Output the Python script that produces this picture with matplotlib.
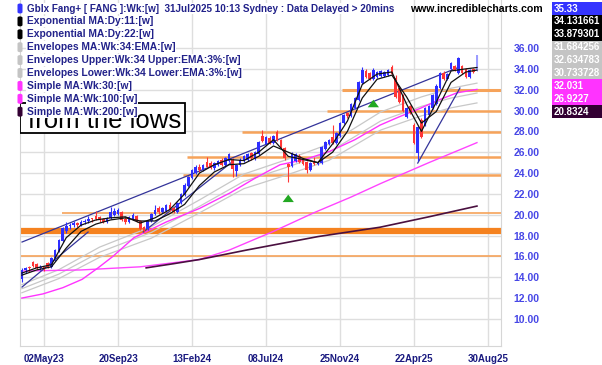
import matplotlib
matplotlib.use('Agg')
import matplotlib.pyplot as plt
from matplotlib.patches import Rectangle, FancyBboxPatch
import numpy as np

plt.rcParams['font.family'] = ['Liberation Sans', 'DejaVu Sans']

# weekly candles (index 0 = week of 20Mar23, last = 31Jul25)
opens = [13.8, 14.7, 14.9, 15.5, 15.3, 14.9, 15.0, 15.4, 15.0, 15.8,
         16.5, 17.5, 18.4, 18.9, 19.0, 19.2, 19.0, 19.3, 19.4, 19.6,
         19.9, 19.8, 19.6, 19.3, 19.7, 20.0, 20.1, 20.3, 19.6, 19.3,
         19.6, 19.9, 19.4, 18.8, 18.6, 19.4, 20.1, 20.6, 20.3, 20.4,
         20.9, 20.6, 20.3, 21.1, 21.9, 22.8, 23.5, 24.0, 24.6, 24.3,
         25.1, 25.0, 24.5, 24.8, 25.3, 24.8, 25.2, 25.3, 24.2, 24.8,
         25.2, 25.3, 25.9, 25.4, 25.8, 27.6, 26.8, 27.4, 26.9, 27.9,
         27.2, 26.4, 24.9, 24.7, 25.2, 25.6, 25.3, 25.1, 24.3, 25.2,
         24.9, 25.0, 26.3, 26.8, 27.5, 26.9, 27.6, 28.8, 29.8, 29.5,
         30.2, 31.0, 32.6, 33.8, 33.6, 33.0, 33.2, 33.3, 33.3, 33.4,
         34.2, 33.1, 32.2, 31.5, 29.4, 30.4, 28.6, 25.9, 29.1, 28.6,
         29.6, 30.2, 30.6, 32.2, 33.6, 33.0, 34.0, 34.3, 33.6, 34.3,
         34.0, 33.2, 34.0, 33.9]
highs = [14.9, 15.0, 15.1, 15.6, 15.4, 15.2, 15.1, 15.5, 15.9, 16.7,
         17.7, 18.8, 19.3, 19.2, 19.4, 19.3, 19.5, 19.6, 19.9, 19.7,
         20.4, 19.9, 19.7, 19.8, 20.7, 20.6, 20.6, 20.4, 19.8, 19.9,
         20.2, 20.0, 19.5, 18.9, 19.5, 20.2, 20.9, 20.8, 20.7, 21.0,
         21.2, 20.7, 21.2, 22.1, 23.0, 23.7, 24.4, 24.8, 24.9, 24.9,
         25.5, 25.2, 25.1, 25.3, 25.4, 25.5, 25.9, 25.4, 24.9, 25.4,
         25.7, 25.9, 26.0, 26.1, 27.1, 28.1, 27.6, 27.6, 27.7, 28.1,
         27.3, 26.5, 25.0, 26.0, 25.9, 25.8, 25.4, 25.2, 25.1, 25.5,
         25.2, 26.6, 27.1, 27.3, 28.6, 27.9, 28.9, 29.7, 29.9, 30.7,
         31.3, 32.8, 34.2, 34.0, 33.7, 34.1, 33.8, 33.9, 33.8, 34.0,
         34.4, 33.4, 32.3, 31.6, 30.3, 30.5, 28.8, 28.5, 29.3, 30.3,
         30.5, 31.6, 32.5, 33.7, 33.8, 33.6, 34.7, 34.4, 35.1, 34.4,
         34.1, 34.0, 34.1, 35.33]
lows = [13.5, 14.4, 14.5, 15.0, 14.8, 14.7, 14.6, 14.9, 14.9, 15.6,
        16.4, 17.4, 18.2, 18.6, 18.8, 18.8, 18.9, 19.1, 19.2, 19.3,
        19.5, 19.3, 19.2, 19.2, 19.6, 19.9, 20.0, 19.4, 19.1, 19.2,
        19.5, 19.3, 18.5, 18.3, 18.5, 19.3, 20.0, 20.1, 20.2, 20.3,
        20.4, 20.2, 20.2, 21.0, 21.8, 22.7, 23.4, 23.9, 24.1, 24.2,
        24.5, 24.4, 24.3, 24.7, 24.7, 24.7, 25.1, 23.6, 23.7, 24.7,
        25.1, 25.2, 25.3, 25.3, 25.7, 27.0, 26.7, 26.8, 26.8, 27.1,
        26.4, 25.3, 23.1, 24.6, 25.1, 25.0, 24.8, 24.0, 24.2, 24.8,
        24.8, 24.9, 26.2, 26.7, 26.8, 26.8, 27.5, 28.7, 29.3, 29.4,
        30.1, 30.9, 32.5, 33.1, 32.9, 32.9, 33.1, 33.2, 33.2, 33.3,
        33.4, 31.2, 30.7, 29.9, 29.3, 29.7, 26.8, 25.2, 27.4, 28.5,
        29.5, 30.1, 30.5, 32.1, 32.9, 32.9, 33.9, 33.8, 33.5, 33.5,
        33.1, 33.1, 33.6, 33.8]
closes = [14.7, 14.9, 14.8, 15.1, 14.9, 15.0, 14.8, 15.0, 15.8, 16.6,
          17.6, 18.7, 18.9, 19.0, 19.2, 19.0, 19.3, 19.4, 19.6, 19.5,
          19.6, 19.5, 19.3, 19.7, 20.3, 20.4, 20.5, 19.5, 19.3, 19.8,
          20.0, 19.4, 18.6, 18.4, 19.4, 20.1, 20.5, 20.3, 20.6, 20.9,
          20.5, 20.3, 21.1, 22.0, 22.9, 23.6, 24.3, 24.6, 24.3, 24.8,
          24.6, 24.5, 25.0, 25.2, 24.8, 25.4, 25.8, 24.4, 24.8, 25.3,
          25.6, 25.8, 25.4, 26.0, 27.0, 27.1, 27.5, 26.9, 27.6, 27.2,
          26.5, 25.4, 24.6, 25.9, 25.8, 25.1, 24.9, 24.3, 25.0, 24.9,
          25.1, 26.5, 27.0, 27.2, 26.9, 27.8, 28.8, 29.6, 29.5, 30.6,
          31.2, 32.7, 33.9, 33.2, 33.0, 33.9, 33.7, 33.8, 33.7, 33.9,
          33.5, 31.3, 30.8, 30.0, 30.2, 29.8, 26.9, 28.4, 27.5, 30.2,
          30.4, 31.5, 32.4, 33.6, 33.0, 33.5, 34.6, 33.9, 35.0, 33.6,
          33.2, 33.9, 33.7, 35.33]

date_ticks = [6, 26, 46, 66, 86, 106, 126]
date_labels = ['02May23', '20Sep23', '13Feb24', '08Jul24', '25Nov24', '22Apr25', '30Aug25']
price_ticks = list(range(10, 37, 2))

# indicators (bar index, value)
ema_x = [0, 4, 8, 12, 16, 20, 24, 28, 32, 36, 40, 44, 48, 52, 56, 60,
         64, 68, 72, 76, 80, 84, 88, 92, 96, 100, 104, 108, 112, 116, 120, 123]
ema11 = [14.4, 14.9, 15.2, 17.8, 19.0, 19.5, 19.7, 19.8, 19.2, 19.7, 20.5, 22.0,
         24.0, 24.8, 25.3, 25.2, 26.0, 27.2, 25.6, 25.3, 25.0, 26.8, 29.0, 32.5,
         33.5, 33.7, 30.6, 28.0, 30.8, 33.8, 34.0, 34.13]
ema22 = [14.2, 14.7, 15.0, 16.8, 18.4, 19.1, 19.5, 19.7, 19.4, 19.4, 20.1, 21.0,
         22.8, 24.1, 24.8, 24.9, 25.6, 26.6, 26.0, 25.4, 25.0, 26.0, 28.0, 31.2,
         33.0, 33.4, 31.3, 28.8, 29.9, 32.7, 33.7, 33.88]

env_x = [0, 10, 21, 35, 48, 60, 72, 83, 97, 108, 116, 123]
env_mid = [12.9, 14.3, 16.4, 18.3, 20.8, 23.2, 24.6, 26.0, 29.0, 30.4, 31.2, 31.68]
env_upper = [13.29, 14.73, 16.89, 18.85, 21.42, 23.90, 25.34, 26.78, 29.87, 31.31, 32.14, 32.63]
env_lower = [12.51, 13.87, 15.91, 17.75, 20.18, 22.50, 23.86, 25.22, 28.13, 29.49, 30.26, 30.73]

sma30_x = [0, 5.7, 11.1, 16.3, 20.6, 24.6, 30.3, 39, 48, 56.3, 63, 69.8, 76.5,
           83.3, 90, 96.8, 102, 107.6, 112.6, 117.6, 123]
sma30 = [12.0, 12.4, 13.0, 13.8, 14.9, 16.0, 17.8, 19.3, 20.6, 22.1, 23.5, 24.8,
         25.3, 26.1, 27.2, 28.6, 29.4, 30.2, 31.0, 31.7, 32.03]
sma100_x = [0, 16, 32, 48, 56, 68, 79, 89, 97, 110, 123]
sma100 = [14.6, 14.7, 15.0, 15.7, 16.6, 18.4, 20.2, 21.7, 23.0, 25.0, 26.92]
sma200_x = [33.6, 41, 48, 60.6, 80, 96.8, 110, 123]
sma200 = [14.9, 15.3, 15.7, 16.6, 17.9, 18.8, 19.8, 20.83]

# drawn support/resistance levels and trend lines
levels = [32.0, 30.0, 27.95, 25.5, 23.85, 20.15, 18.45, 16.0]
level_start = [86.5, 82.5, 59.5, 44.6, 43.6, 10.9, -0.5, -0.5]
level_lw = [2.2, 1.8, 1.8, 1.8, 1.8, 1.2, 4.5, 1.2]
trend_lines = [((0.05, 17.38), (117.6, 34.08)),
               ((0.05, 13.06), (17.9, 18.34)),
               ((32.8, 18.34), (56.8, 25.06)),
               ((107.0, 24.96), (118.4, 32.16))]
arrows = [(72, 21.1, 22.2), (95, 30.2, 31.3)]

legend_rows = ['Gblx Fang+ [ FANG ]:Wk:[w]  31Jul2025 10:13 Sydney : Data Delayed > 20mins',
               'Exponential MA:Dy:11:[w]', 'Exponential MA:Dy:22:[w]',
               'Envelopes MA:Wk:34:EMA:[w]', 'Envelopes Upper:Wk:34 Upper:EMA:3%:[w]',
               'Envelopes Lower:Wk:34 Lower:EMA:3%:[w]', 'Simple MA:Wk:30:[w]',
               'Simple MA:Wk:100:[w]', 'Simple MA:Wk:200:[w]']
legend_colors = ['#3434ff', '#000000', '#000000', '#c4c4c4', '#c4c4c4', '#c4c4c4',
                 '#ff33ff', '#ff33ff', '#330033']
last_values = ['35.33', '34.131661', '33.879301', '31.684256', '32.634783',
               '30.733728', '32.031', '26.9227', '20.8324']

W, H = 602, 365
fig = plt.figure(figsize=(W / 100, H / 100), dpi=100)
ax = fig.add_axes([20 / W, 19 / H, 481 / W, 346 / H])
ax.set_xlim(-0.5, 129.5)
ax.set_ylim(7.40, 40.61)

# grid
for t in price_ticks:
    ax.axhline(t, color='#dedede', lw=1.0, zorder=0)
for t in date_ticks:
    ax.axvline(t, color='#dedede', lw=1.0, zorder=0)

# levels
for lv, st, lw in zip(levels, level_start, level_lw):
    col = '#f5821f' if lw > 3 else '#f6a35a'
    ax.plot([st, 129.5], [lv, lv], color=col, lw=lw, solid_capstyle='butt', zorder=1)

# indicators
ax.plot(env_x, env_upper, color='#c8c8c8', lw=0.9, zorder=2)
ax.plot(env_x, env_mid, color='#c8c8c8', lw=0.9, zorder=2)
ax.plot(env_x, env_lower, color='#c8c8c8', lw=0.9, zorder=2)
ax.plot(sma100_x, sma100, color='#ff44ff', lw=1.0, zorder=2)
ax.plot(sma200_x, sma200, color='#4a1040', lw=1.2, zorder=2)
ax.plot(sma30_x, sma30, color='#ff33ff', lw=1.0, zorder=2)

# trend lines
for (x0, y0), (x1, y1) in trend_lines:
    ax.plot([x0, x1], [y0, y1], color='#34349a', lw=0.9, zorder=3)

# candles
idx = np.arange(len(closes))
o = np.array(opens)
c = np.array(closes)
cols = np.where(c >= o, '#2e2eff', '#ff3636').astype(object)
cols[-1] = '#9c9cff'
ax.vlines(idx, lows, highs, colors=list(cols), lw=0.8, zorder=4)
body = np.where(np.abs(c - o) < 0.12, 0.12, c - o)
ax.bar(idx, body, bottom=o, width=0.7, color=list(cols), lw=0, zorder=4)

ax.plot(ema_x, ema22, color='#111111', lw=0.9, zorder=5)
ax.plot(ema_x, ema11, color='#111111', lw=0.9, zorder=5)

# green arrows
for xa, yb, yt in arrows:
    ax.annotate('', xy=(xa, yt), xytext=(xa, yb),
                arrowprops=dict(arrowstyle='simple,head_width=0.9,head_length=0.6,tail_width=0.35',
                                color='#22a822', lw=0, mutation_scale=9), zorder=6)

# axes styling
for s in ['left', 'right', 'bottom']:
    ax.spines[s].set_color('#d6d6d6')
ax.spines['top'].set_visible(False)
ax.set_xticks(date_ticks)
ax.set_xticklabels(date_labels)
ax.set_yticks(price_ticks)
ax.set_yticklabels([f'{t:.2f}' for t in price_ticks])
ax.yaxis.tick_right()
ax.tick_params(axis='x', length=0, pad=6, labelsize=7, labelcolor='#1a1a80')
ax.tick_params(axis='y', length=0, pad=9, labelsize=7.5, labelcolor='#4646e6')
for lab in ax.get_xticklabels() + ax.get_yticklabels():
    lab.set_fontweight('bold')

# comment box
ax.add_patch(Rectangle((0, 1 - 133 / 346), 165 / 481, 30 / 346, transform=ax.transAxes,
                       facecolor='white', edgecolor='black', lw=1.3, zorder=7))
ax.text(-12 / 481, 1 - 128 / 346, 's from the lows', transform=ax.transAxes,
        fontsize=18.5, color='black', va='baseline', ha='left', clip_on=True, zorder=8)

# legend rows
for k, (txt, col, val) in enumerate(zip(legend_rows, legend_colors, last_values)):
    yc = 8.5 + 12.9 * k
    fy = 1 - yc / H
    fig.text(27 / W, fy, txt, fontsize=7.1 if k == 0 else 7.35, fontweight='bold',
             color='#22228a', va='center', ha='left', zorder=10,
             bbox=dict(facecolor='white', edgecolor='none', pad=0.6))
    fig.patches.append(FancyBboxPatch((17.5 / W, fy - 5 / H), 5 / W, 10 / H,
                                      boxstyle='round,pad=0,rounding_size=0.004',
                                      transform=fig.transFigure, facecolor=col,
                                      edgecolor='none', zorder=10))
    fig.patches.append(Rectangle((552 / W, fy - 6.45 / H), 50 / W, 12.9 / H,
                                 transform=fig.transFigure, facecolor=col,
                                 edgecolor='none', zorder=10))
    fig.text(553.5 / W, fy, val, fontsize=7, fontweight='bold', color='white',
             va='center', ha='left', zorder=11)

fig.text(410 / W, 1 - 8.5 / H, 'www.incrediblecharts.com', fontsize=7.6,
         fontweight='bold', color='black', va='center', ha='left')

fig.savefig('out.png', dpi=100, facecolor='white')
